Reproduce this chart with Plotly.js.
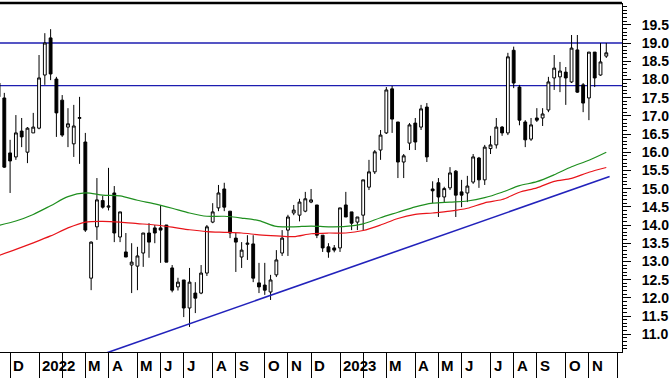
<!DOCTYPE html>
<html><head><meta charset="utf-8">
<script src="https://cdn.plot.ly/plotly-3.0.1.min.js"></script>
<style>html,body{margin:0;padding:0;background:#fff}#chart{width:672px;height:378px}</style>
</head><body><div id="chart"></div>
<script>
// Weekly bars (week ending Friday), first bar 2021-11-19
const firstWeek = '2021-11-19';
const open  = [17.90,17.49,15.98,15.87,16.58,16.00,16.53,
  16.66,18.12,19.14,18.01, 17.43,16.69,16.23,16.93,
  16.28,12.54,13.95,14.67, 14.49,14.88,13.67,13.26,12.90, 12.87,13.23,13.78,13.92,
  13.92,14.00,12.82,12.30, 12.49,11.72,12.13,12.13,12.68, 14.08,14.47,14.99,14.38,
  13.64,13.12,13.47,13.48,12.41, 12.35,12.16,12.63,13.23, 13.86,14.33,14.27,14.38,
  14.63,14.55,13.72,13.40,13.37,
  13.37,14.55,14.36,14.08, 14.27,15.04,15.46,16.06, 16.53,17.74,16.83,15.73,16.25,
  16.80,16.69,17.24,14.99, 15.16,14.77,15.02,15.48, 14.91,14.88,15.18,15.84,15.24,
  16.10,16.20,16.69,16.53, 18.80,17.79,16.83,16.36, 16.94,16.94,17.16,18.04,18.07,
  18.20,17.93,18.81,17.85, 17.49,18.75,18.12,18.64];
const high  = [18.10,17.63,16.34,17.02,16.94,16.69,17.08,
  18.67,19.27,19.38,18.07, 17.57,17.21,17.30,17.52,
  16.53,13.55,15.29,14.80, 15.57,15.07,14.36,13.78,13.50, 13.40,13.78,14.05,14.00,
  14.55,14.00,12.90,12.55, 12.49,12.82,12.43,12.90,14.00, 14.60,15.10,15.16,14.38,
  13.78,13.53,13.72,13.72,12.96, 12.96,12.63,13.31,13.86, 14.28,14.55,14.72,14.91,
  14.99,14.55,13.72,13.50,13.45,
  14.47,14.91,14.36,14.22, 15.24,15.79,16.06,16.61, 17.79,17.82,16.83,15.95,16.80,
  16.94,17.30,17.35,15.20, 15.29,15.05,15.59,15.51, 15.24,15.35,15.95,15.87,16.20,
  16.45,16.94,16.72,18.73, 18.90,17.85,16.88,16.94, 17.21,17.21,18.07,18.67,18.48,
  18.34,19.22,19.22,17.90, 18.75,18.75,19.00,19.00];
const low   = [17.40,15.57,14.88,15.79,16.14,15.70,16.53,
  16.63,17.85,17.98,16.42, 16.42,16.14,15.87,15.68,
  13.81,12.21,13.59,14.45, 14.40,13.53,13.53,13.12,12.13, 12.21,12.85,13.10,13.50,
  12.96,12.98,12.15,12.20, 11.47,11.20,11.58,12.10,12.60, 14.05,14.38,14.38,13.64,
  12.71,12.82,13.04,12.43,12.13, 12.08,11.94,12.57,13.15, 13.15,14.27,14.10,14.35,
  14.60,13.64,13.26,13.10,13.25,
  13.26,14.22,13.86,13.86, 13.86,14.96,15.40,15.79, 16.50,16.53,15.29,15.29,16.06,
  16.06,16.61,15.73,14.60, 14.22,14.63,14.96,14.22, 14.49,14.63,15.13,15.02,15.10,
  15.95,16.10,16.45,16.47, 17.76,16.74,16.14,16.31, 16.83,16.72,17.10,17.71,17.65,
  17.30,17.90,17.63,17.10, 16.88,17.79,18.10,18.59];
const close = [17.52,15.59,15.76,16.53,16.42,16.66,16.69,
  18.04,19.00,18.15,17.08, 16.47,16.78,16.72,16.95,
  13.86,13.53,14.69,14.49, 14.52,13.78,14.36,13.12,12.98, 13.15,13.78,13.53,13.78,
  13.86,12.98,12.21,12.43, 11.72,12.43,11.99,12.68,13.95, 14.36,14.88,14.49,13.78,
  13.53,13.31,13.50,12.54,12.30, 12.21,12.49,13.04,13.64, 14.22,14.41,14.63,14.72,
  14.69,13.72,13.37,13.26,13.31,
  14.47,14.22,14.05,14.22, 15.24,15.46,16.01,16.47, 17.71,16.91,15.73,15.90,16.75,
  16.28,17.19,15.87,14.94, 14.77,15.00,15.43,14.82, 14.82,15.07,15.87,15.24,16.14,
  16.20,16.69,16.53,18.62, 17.90,16.88,16.34,16.75, 16.88,17.05,17.93,18.31,18.23,
  18.04,18.86,17.65,17.35, 18.75,18.04,18.48,18.73];

// moving averages read every third week
const maGreen = [13.99,14.11,14.29,14.53,14.78,14.88,14.82,14.80,14.68,14.58,14.46,14.33,
  14.24,14.24,14.19,14.12,13.96,13.95,13.97,13.95,13.96,14.03,14.20,14.35,14.50,14.60,
  14.63,14.66,14.75,14.90,15.08,15.19,15.38,15.60,15.78,16.00];
const maRed = [13.16,13.33,13.51,13.70,13.92,14.08,14.10,14.08,14.04,14.00,13.94,13.87,
  13.82,13.80,13.78,13.73,13.70,13.68,13.76,13.78,13.78,13.85,14.00,14.18,14.29,14.33,
  14.38,14.46,14.61,14.70,14.90,15.02,15.20,15.28,15.45,15.58];

// trend line and horizontal levels
const trendDates = ['2022-03-25','2023-11-28'];
const trendValues = [10.45, 15.33];
const hLevels = [19.0, 17.83];

// month separators (first bar of each month) and labels
const monthBars = ['2021-12-03','2022-01-07','2022-02-04','2022-03-04','2022-04-01','2022-05-06',
  '2022-06-03','2022-07-01','2022-08-05','2022-09-02','2022-10-07','2022-11-04','2022-12-02',
  '2023-01-06','2023-02-03','2023-03-03','2023-04-07','2023-05-05','2023-06-02','2023-07-07',
  '2023-08-04','2023-09-01','2023-10-06','2023-11-03','2023-12-07'];
const monthLabels = ['D','2022','','M','A','M','J','J','A','S','O','N','D',
  '2023','','M','A','M','J','J','A','S','O','N',''];
const yTicks = [11.0,11.5,12.0,12.5,13.0,13.5,14.0,14.5,15.0,15.5,16.0,16.5,17.0,17.5,18.0,18.5,19.0,19.5];

function addDays(s, n){const d=new Date(s+'T00:00:00Z');d.setUTCDate(d.getUTCDate()+n);return d.toISOString().slice(0,10);}
const weekDates = open.map((_, i) => addDays(firstWeek, 7*i));
const maDates = weekDates.filter((_, i) => i % 3 === 0);

const FONT = 'Arial, "Liberation Sans", sans-serif';
const traces = [
  {type:'scatter', mode:'lines', x: maDates, y: maGreen, line:{color:'#1f8f1f', width:1.2, shape:'spline', smoothing:0.8}, hoverinfo:'skip'},
  {type:'scatter', mode:'lines', x: maDates, y: maRed, line:{color:'#e8141a', width:1.2, shape:'spline', smoothing:0.8}, hoverinfo:'skip'},
  {type:'scatter', mode:'lines', x: trendDates, y: trendValues, line:{color:'#2222bb', width:1.6}, hoverinfo:'skip'},
  {type:'candlestick', x: weekDates, open, high, low, close,
    increasing:{line:{color:'#000', width:1}, fillcolor:'#fff'},
    decreasing:{line:{color:'#000', width:1}, fillcolor:'#000'},
    whiskerwidth:0, hoverinfo:'skip'}
];

const shapes = hLevels.map(v => ({type:'line', xref:'paper', x0:0, x1:1, yref:'y', y0:v, y1:v,
  line:{color:'#1c1cb0', width:1.3}, layer:'below'}));
shapes.push({type:'line', xref:'paper', yref:'paper', x0:0, x1:1, y0:1, y1:1, line:{color:'#000', width:2.5}});

const annotations = monthBars.map((d, i) => ({x: d, xref:'x', y:0, yref:'paper', text: monthLabels[i],
  showarrow:false, xanchor:'left', yanchor:'top', xshift:1, yshift:-3,
  font:{family:FONT, size:15, color:'#000', weight:'bold'}})).filter(a => a.text !== '');

const layout = {
  width:672, height:378, margin:{l:0, r:50, t:3, b:26, pad:0},
  paper_bgcolor:'#fff', plot_bgcolor:'#fff', showlegend:false, boxgap:0.3,
  xaxis:{type:'date', range:['2021-11-20 19:00','2023-12-13'], rangeslider:{visible:false},
    showgrid:false, zeroline:false, showline:true, linecolor:'#000', linewidth:1,
    tickmode:'array', tickvals: monthBars, ticks:'outside', ticklen:26, tickwidth:1, tickcolor:'#000',
    showticklabels:false},
  yaxis:{side:'right', range:[10.511, 20.099], showgrid:false, zeroline:false,
    showline:true, linecolor:'#000', linewidth:1,
    tickmode:'array', tickvals: yTicks, ticktext: yTicks.map(v => v.toFixed(1)),
    ticks:'outside', ticklen:8, tickcolor:'#000', ticklabelstandoff:8,
    tickfont:{family:FONT, size:14, color:'#000', weight:'bold'},
    minor:{tickmode:'linear', tick0:0, dtick:0.1, ticks:'outside', ticklen:4, tickcolor:'#000'}},
  shapes, annotations
};
Plotly.newPlot('chart', traces, layout, {staticPlot:true, displayModeBar:false});
</script></body></html>
